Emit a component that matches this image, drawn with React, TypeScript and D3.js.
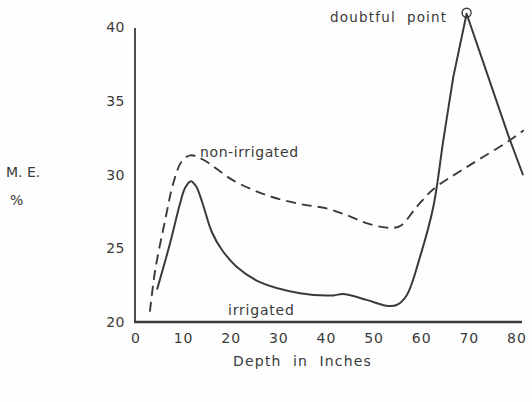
import React from "react";
import * as d3 from "d3";

// Moisture equivalent (%) by depth (inches)
const irrigatedDepth = [4, 6.7, 8.8, 9.9, 11.1, 12.2, 13.5, 15.5, 17.6, 20.7, 25.6, 34, 41, 43, 48, 52.2, 54.3, 56.4, 59.2, 62, 64.1, 66.2];
const irrigatedME = [22.2, 25.3, 28.0, 29.1, 29.55, 29.2, 28.1, 26.1, 24.9, 23.75, 22.7, 21.95, 21.8, 21.9, 21.5, 21.1, 21.15, 21.8, 24.4, 27.8, 32.3, 36.6];

// straight run up to and down from the doubtful point
const peakDepth = [66.2, 69, 77.8, 80.8];
const peakME = [36.6, 40.9, 32.6, 30.0];

const nonIrrigatedDepth = [2.5, 3.6, 5.7, 7.4, 9.2, 11, 13.7, 20, 27, 34, 39.6, 43.8, 48, 52.2, 55, 58.5, 62, 69, 78, 81];
const nonIrrigatedME = [20.7, 23.5, 26.9, 29.4, 30.9, 31.3, 31.0, 29.6, 28.6, 28.0, 27.7, 27.25, 26.7, 26.4, 26.5, 27.8, 29.0, 30.5, 32.3, 33.0];

const xTicks = [0, 10, 20, 30, 40, 50, 60, 70, 80];
const yTicks = [20, 25, 30, 35, 40];

const doubtfulDepth = 69;
const doubtfulME = 40.9;

const ink = "#3a3a3a";
const font = "'DejaVu Sans', sans-serif";

export default function App() {
  const x = d3.scaleLinear().domain([0, 80]).range([138, 519]);
  const y = d3.scaleLinear().domain([20, 40]).range([322, 27]);

  const smooth = d3
    .line<[number, number]>()
    .x((d) => x(d[0]))
    .y((d) => y(d[1]))
    .curve(d3.curveCatmullRom.alpha(0.5));
  const straight = d3
    .line<[number, number]>()
    .x((d) => x(d[0]))
    .y((d) => y(d[1]));

  const irr: [number, number][] = irrigatedDepth.map((d, i) => [d, irrigatedME[i]]);
  const peak: [number, number][] = peakDepth.map((d, i) => [d, peakME[i]]);
  const non: [number, number][] = nonIrrigatedDepth.map((d, i) => [d, nonIrrigatedME[i]]);

  const txt = { fontFamily: font, fill: ink, style: { whiteSpace: "pre" as const } };

  return (
    <svg
      width={532}
      height={402}
      style={{ position: "absolute", left: 0, top: 0, background: "#fff" }}
    >
      <rect width={532} height={402} fill="#fefefe" />
      {/* axes */}
      <line x1={135} y1={28} x2={135} y2={322} stroke={ink} strokeWidth={1.8} />
      <line x1={134} y1={322} x2={522} y2={322} stroke={ink} strokeWidth={2.4} />

      {yTicks.map((t) => (
        <text key={t} x={125} y={y(t)} textAnchor="end" dominantBaseline="central" fontSize={14} letterSpacing={0.5} {...txt}>
          {t}
        </text>
      ))}
      {xTicks.map((t) => (
        <text key={t} x={x(t) - 2} y={338} textAnchor="middle" dominantBaseline="central" fontSize={14} letterSpacing={1} {...txt}>
          {t}
        </text>
      ))}

      <path d={smooth(non) ?? ""} fill="none" stroke={ink} strokeWidth={1.9} strokeDasharray="10,6" />
      <path d={smooth(irr) ?? ""} fill="none" stroke={ink} strokeWidth={2} strokeLinejoin="round" />
      <path d={straight(peak) ?? ""} fill="none" stroke={ink} strokeWidth={2} strokeLinejoin="round" strokeLinecap="round" />

      <circle cx={x(doubtfulDepth)} cy={y(doubtfulME) - 1} r={4.5} fill="none" stroke={ink} strokeWidth={1.4} />

      <text x={200} y={157} fontSize={14} letterSpacing={0.6} {...txt}>
        non-irrigated
      </text>
      <text x={228} y={315} fontSize={14} letterSpacing={0.8} {...txt}>
        irrigated
      </text>
      <text x={330} y={22} fontSize={13.5} letterSpacing={1.2} {...txt}>
        {"doubtful  point"}
      </text>

      <text x={6} y={177} fontSize={14} {...txt}>
        {"M. E."}
      </text>
      <text x={10} y={205} fontSize={14} {...txt}>
        %
      </text>
      <text x={233} y={366} fontSize={14} letterSpacing={1.2} {...txt}>
        {"Depth  in  Inches"}
      </text>
    </svg>
  );
}
